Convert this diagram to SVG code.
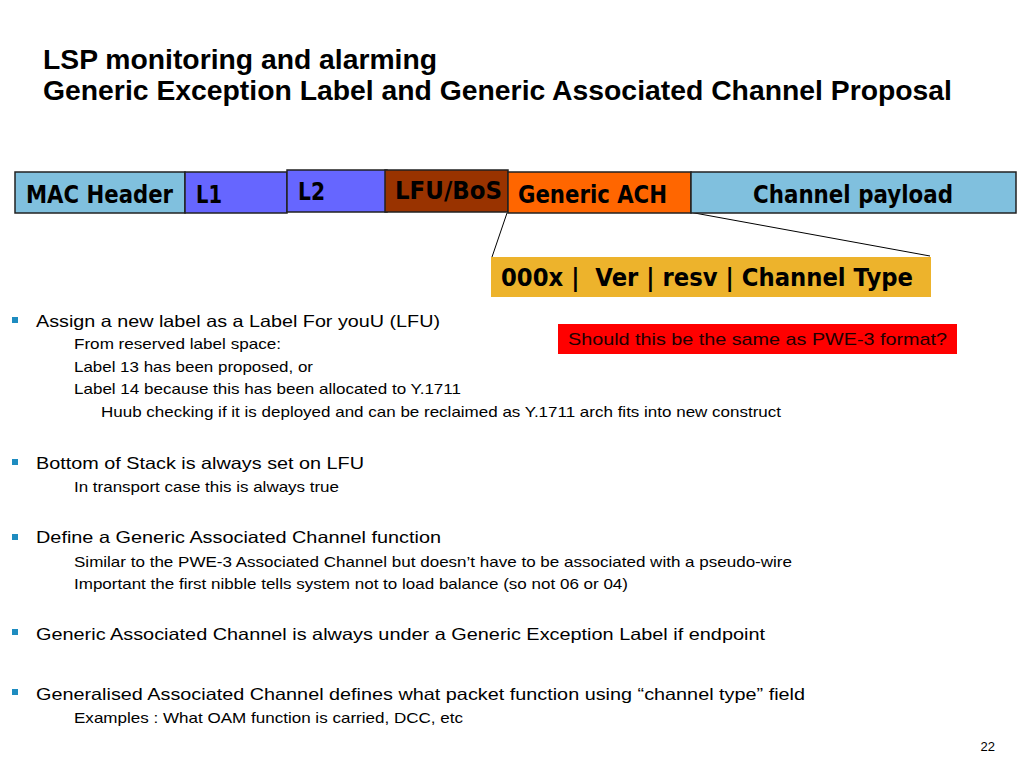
<svg xmlns="http://www.w3.org/2000/svg" width="1024" height="768" viewBox="0 0 1024 768">
<style>
.title{font-family:"Liberation Sans",Arial,sans-serif;font-weight:bold;font-size:28px;fill:#000}
.box{stroke:#222;stroke-width:1.5}
.bt{font-family:"DejaVu Sans",Verdana,sans-serif;font-weight:bold;font-size:24px;fill:#000}
.b1{font-family:"Liberation Sans",Arial,sans-serif;font-size:16.5px;fill:#000}
.b2{font-family:"Liberation Sans",Arial,sans-serif;font-size:14.5px;fill:#000}
.bul{fill:#1E8CC0}
.conn{stroke:#000;stroke-width:1;fill:none}
</style>
<rect width="1024" height="768" fill="#fff"/>
<g id="title">
<text class="title" x="43" y="69" textLength="394" lengthAdjust="spacingAndGlyphs">LSP monitoring and alarming</text>
<text class="title" x="43" y="100" textLength="909" lengthAdjust="spacingAndGlyphs">Generic Exception Label and Generic Associated Channel Proposal</text>
</g>
<g id="connectors">
<line class="conn" x1="507" y1="213" x2="492" y2="257"/>
<line class="conn" x1="689" y1="212" x2="930" y2="256"/>
</g>
<g id="mac">
<rect class="box" x="15" y="172" width="170" height="41" fill="#80C0DE"/>
<text class="bt" x="26" y="203" textLength="147" lengthAdjust="spacingAndGlyphs">MAC Header</text>
</g>
<g id="l1">
<rect class="box" x="185" y="172" width="102" height="41" fill="#6666FF"/>
<text class="bt" x="196" y="203" textLength="26" lengthAdjust="spacingAndGlyphs">L1</text>
</g>
<g id="l2">
<rect class="box" x="287" y="170" width="100" height="42" fill="#6666FF"/>
<text class="bt" x="298" y="200" textLength="27" lengthAdjust="spacingAndGlyphs">L2</text>
</g>
<g id="lfu">
<rect class="box" x="385" y="170" width="123" height="42" fill="#993300"/>
<text class="bt" x="395" y="199" textLength="107" lengthAdjust="spacingAndGlyphs">LFU/BoS</text>
</g>
<g id="gach">
<rect class="box" x="508" y="172" width="183" height="41" fill="#FF6600"/>
<text class="bt" x="518" y="203" textLength="149" lengthAdjust="spacingAndGlyphs">Generic ACH</text>
</g>
<g id="payload">
<rect class="box" x="691" y="172" width="325" height="41" fill="#80C0DE"/>
<text class="bt" x="753" y="203" textLength="200" lengthAdjust="spacingAndGlyphs">Channel payload</text>
</g>
<g id="achfmt">
<rect x="491" y="257" width="440" height="40" fill="#EDB32C"/>
<text class="bt" x="501" y="286" xml:space="preserve" style="white-space:pre" textLength="412" lengthAdjust="spacingAndGlyphs">000x |  Ver | resv | Channel Type</text>
</g>
<g id="note">
<rect x="558" y="324" width="399" height="30" fill="#FF0000"/>
<text x="568" y="345" font-family="'Liberation Sans',Arial,sans-serif" font-size="17px" fill="#200000" textLength="379" lengthAdjust="spacingAndGlyphs">Should this be the same as PWE-3 format?</text>
</g>
<g id="bullets">
<rect class="bul" x="12" y="317" width="6" height="6"/>
<text class="b1" x="36" y="327" textLength="404" lengthAdjust="spacingAndGlyphs">Assign a new label as a Label For youU (LFU)</text>
<text class="b2" x="74" y="349" textLength="207" lengthAdjust="spacingAndGlyphs">From reserved label space:</text>
<text class="b2" x="74" y="372" textLength="239" lengthAdjust="spacingAndGlyphs">Label 13 has been proposed, or</text>
<text class="b2" x="74" y="394" textLength="387" lengthAdjust="spacingAndGlyphs">Label 14 because this has been allocated to Y.1711</text>
<text class="b2" x="101" y="417" textLength="680" lengthAdjust="spacingAndGlyphs">Huub checking if it is deployed and can be reclaimed as Y.1711 arch fits into new construct</text>
<rect class="bul" x="12" y="459" width="6" height="6"/>
<text class="b1" x="36" y="469" textLength="328" lengthAdjust="spacingAndGlyphs">Bottom of Stack is always set on LFU</text>
<text class="b2" x="74" y="492" textLength="265" lengthAdjust="spacingAndGlyphs">In transport case this is always true</text>
<rect class="bul" x="12" y="534" width="6" height="6"/>
<text class="b1" x="36" y="543" textLength="405" lengthAdjust="spacingAndGlyphs">Define a Generic Associated Channel function</text>
<text class="b2" x="74" y="567" textLength="718" lengthAdjust="spacingAndGlyphs">Similar to the PWE-3 Associated Channel but doesn’t have to be associated with a pseudo-wire</text>
<text class="b2" x="74" y="589" textLength="554" lengthAdjust="spacingAndGlyphs">Important the first nibble tells system not to load balance (so not 06 or 04)</text>
<rect class="bul" x="12" y="629" width="6" height="6"/>
<text class="b1" x="36" y="640" textLength="729" lengthAdjust="spacingAndGlyphs">Generic Associated Channel is always under a Generic Exception Label if endpoint</text>
<rect class="bul" x="12" y="689" width="6" height="6"/>
<text class="b1" x="36" y="700" textLength="769" lengthAdjust="spacingAndGlyphs">Generalised Associated Channel defines what packet function using “channel type” field</text>
<text class="b2" x="74" y="723" textLength="389" lengthAdjust="spacingAndGlyphs">Examples : What OAM function is carried, DCC, etc</text>
</g>
<text x="995" y="751" text-anchor="end" font-family="'Liberation Sans',Arial,sans-serif" font-size="13px" fill="#000">22</text>
</svg>
